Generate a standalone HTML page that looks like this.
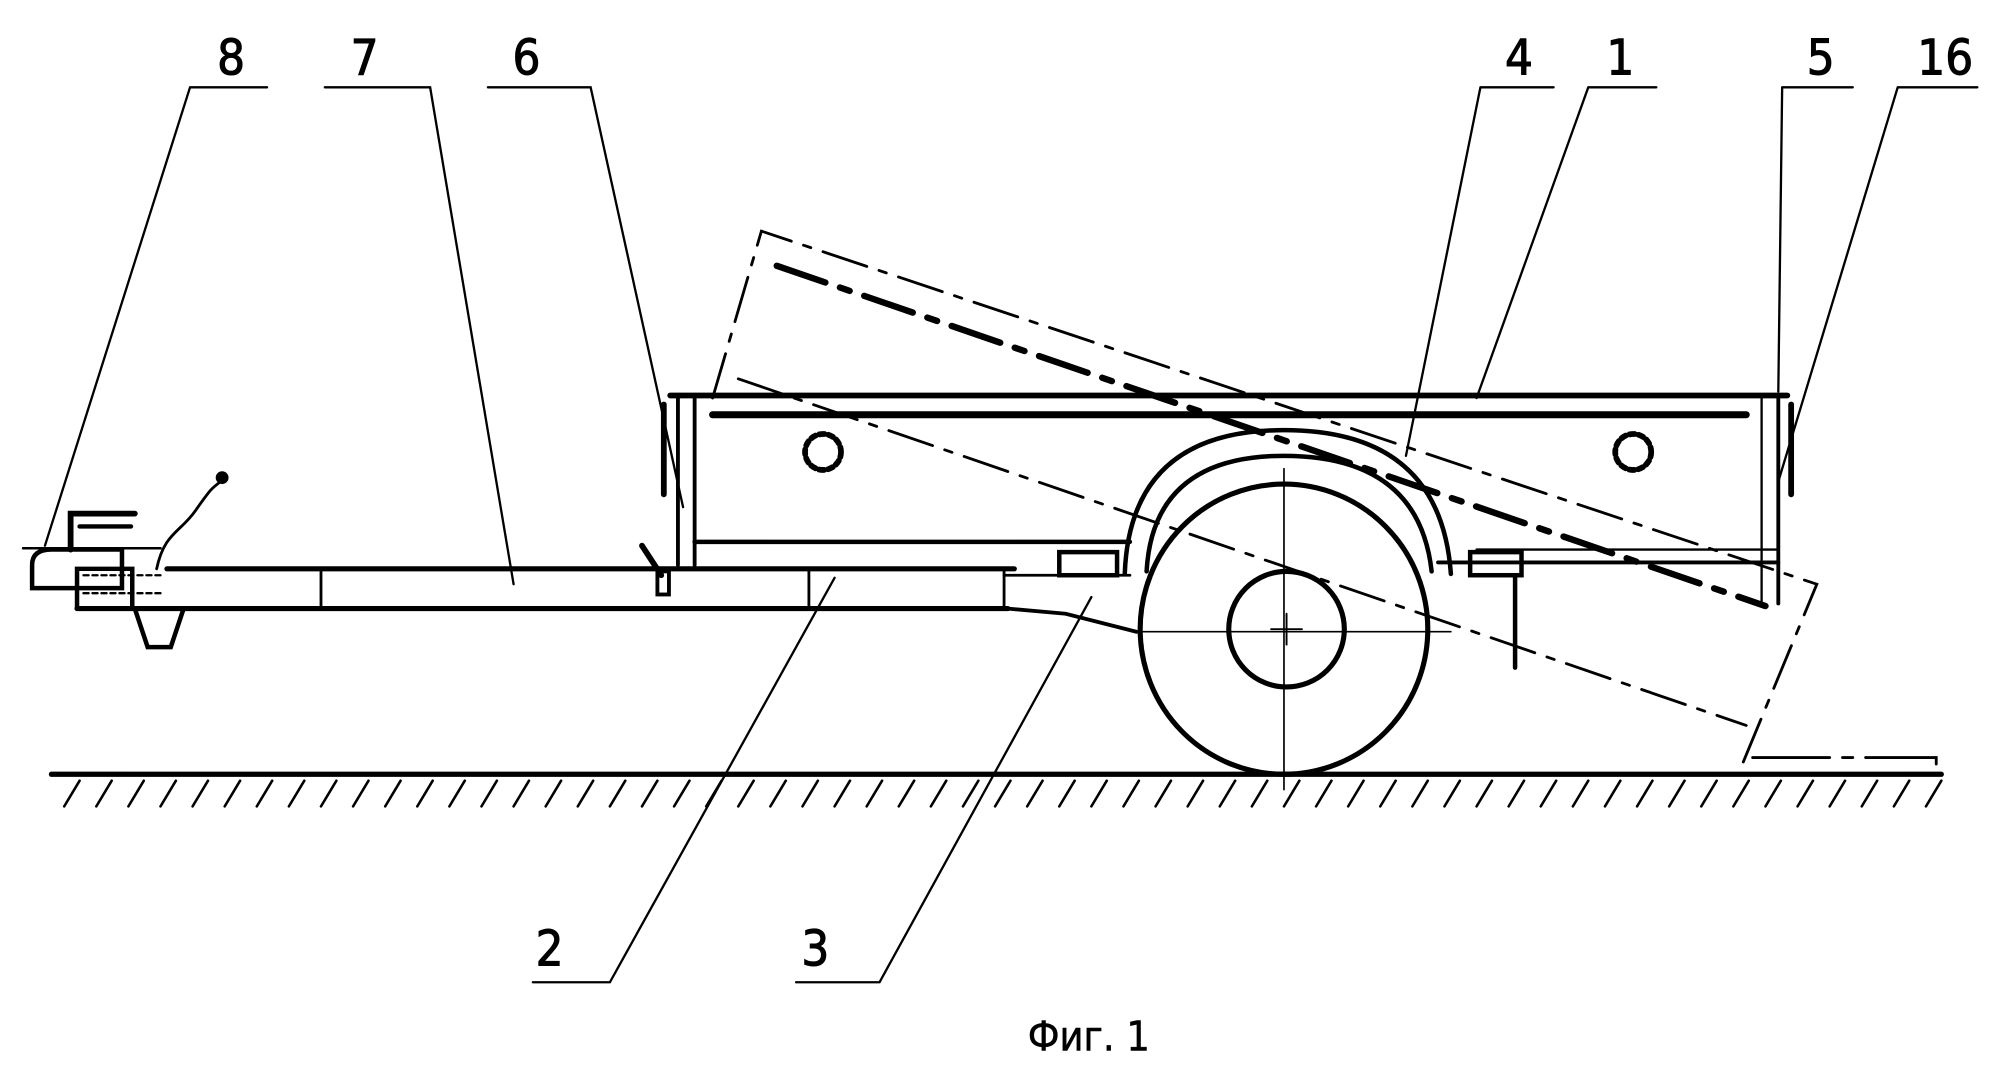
<!DOCTYPE html>
<html><head><meta charset="utf-8"><style>
html,body{margin:0;padding:0;background:#fff;}
svg{display:block}
text{font-family:"DejaVu Sans Condensed","Liberation Sans",sans-serif;fill:#000}
</style></head><body>
<svg width="2003" height="1067" viewBox="0 0 1560 831" preserveAspectRatio="none" xmlns="http://www.w3.org/2000/svg">
<g stroke="#000" fill="none" stroke-linecap="round">
<line x1="40" y1="603" x2="1512" y2="603" stroke-width="4"/>
<g stroke-width="2">
<path d="M50 628l12-20M75 628l12-20M100 628l12-20M125 628l12-20M150 628l12-20M175 628l12-20M200 628l12-20M225 628l12-20M250 628l12-20M275 628l12-20M300 628l12-20M325 628l12-20M350 628l12-20M375 628l12-20M400 628l12-20M425 628l12-20M450 628l12-20M475 628l12-20M500 628l12-20M525 628l12-20M550 628l12-20M575 628l12-20M600 628l12-20M625 628l12-20M650 628l12-20M675 628l12-20M700 628l12-20M725 628l12-20M750 628l12-20M775 628l12-20M800 628l12-20M825 628l12-20M850 628l12-20M875 628l12-20M900 628l12-20M925 628l12-20M950 628l12-20M975 628l12-20M1000 628l12-20M1025 628l12-20M1050 628l12-20M1075 628l12-20M1100 628l12-20M1125 628l12-20M1150 628l12-20M1175 628l12-20M1200 628l12-20M1225 628l12-20M1250 628l12-20M1275 628l12-20M1300 628l12-20M1325 628l12-20M1350 628l12-20M1375 628l12-20M1400 628l12-20M1425 628l12-20M1450 628l12-20M1475 628l12-20M1500 628l12-20"/>
</g>
<ellipse cx="1000" cy="490" rx="112" ry="113" stroke-width="4"/>
<circle cx="1002" cy="490" r="45" stroke-width="4"/>
<line x1="1000" y1="365" x2="1000" y2="615" stroke-width="1.3"/>
<line x1="885" y1="492" x2="1130" y2="492" stroke-width="1.3"/>
<line x1="1002" y1="478" x2="1002" y2="502" stroke-width="1.5"/>
<line x1="990" y1="490" x2="1014" y2="490" stroke-width="1.5"/>
<path d="M876 447 Q880 335 1000 335 Q1122 335 1130 447" stroke-width="3.5"/>
<path d="M893 445 Q898 355 1000 355 Q1105 355 1115 445" stroke-width="3.5"/>
<line x1="522" y1="308" x2="1392" y2="308" stroke-width="4.5"/>
<line x1="555" y1="323" x2="1360" y2="323" stroke-width="5.5"/>
<line x1="541" y1="308" x2="541" y2="440" stroke-width="3"/>
<line x1="528" y1="310" x2="528" y2="440" stroke-width="3"/>
<line x1="1385" y1="308" x2="1385" y2="470" stroke-width="3"/>
<line x1="1372" y1="310" x2="1372" y2="470" stroke-width="1.8"/>
<line x1="541" y1="422" x2="880" y2="422" stroke-width="3.5"/>
<line x1="1120" y1="438" x2="1385" y2="438" stroke-width="3"/>
<line x1="1150" y1="428" x2="1385" y2="428" stroke-width="1.8"/>
<rect x="825" y="430" width="45" height="18" stroke-width="3.5"/>
<rect x="1145" y="430" width="40" height="18" stroke-width="3.5"/>
<line x1="1180" y1="448" x2="1180" y2="520" stroke-width="3.5"/>
<path d="M517 315v70M1395 315v70" stroke-width="4.5"/>
<circle cx="641" cy="352" r="14" stroke-width="4.5" stroke-dasharray="4 3"/>
<circle cx="1272" cy="352" r="14" stroke-width="4.5" stroke-dasharray="4 3"/>
<line x1="130" y1="443" x2="790" y2="443" stroke-width="4"/>
<line x1="60" y1="474" x2="785" y2="474" stroke-width="4"/>
<line x1="250" y1="443" x2="250" y2="474" stroke-width="2.2"/>
<line x1="630" y1="443" x2="630" y2="474" stroke-width="2.2"/>
<line x1="782" y1="443" x2="782" y2="474" stroke-width="2.2"/>
<line x1="782" y1="448" x2="880" y2="448" stroke-width="2.2"/>
<path d="M785 474 L830 478 L885 492" stroke-width="3"/>
<rect x="512" y="445" width="9" height="18" stroke-width="3"/>
<line x1="500" y1="425" x2="515" y2="448" stroke-width="4.5"/>
<path d="M60 474V443h43V474" stroke-width="3.5"/>
<path d="M25 440 Q25 428 40 428 H95 V458 H25 Z" stroke-width="3.5"/>
<path d="M55 428V400h50" stroke-width="4.5"/>
<path d="M62 410h40" stroke-width="3.5"/>
<line x1="18" y1="427" x2="125" y2="427" stroke-width="2"/>
<line x1="65" y1="448" x2="128" y2="448" stroke-width="1.8" stroke-dasharray="4 3"/>
<line x1="65" y1="462" x2="128" y2="462" stroke-width="1.8" stroke-dasharray="4 3"/>
<path d="M105 474l10 30h18l10-30" stroke-width="3.5"/>
<path d="M122 443 C128 415 140 415 152 398 S165 380 172 375" stroke-width="2.2"/>
<circle cx="173" cy="372" r="4.5" fill="#000"/>
<path d="M555 310 L593 180 L1415 455 L1355 600" stroke-width="2.2" stroke-dasharray="36 10 6 10"/>
<path d="M575 295 L1360 565" stroke-width="2.2" stroke-dasharray="36 10 6 10"/>
<path d="M605 207 L1375 472" stroke-width="5" stroke-dasharray="40 12 8 12"/>
<path d="M1365 590 H1508 V603" stroke-width="2.2" stroke-dasharray="60 10 8 10"/>
<g stroke-width="1.8">
<path d="M148 68h60M148 68L35 425"/>
<path d="M253 68h60M313 68h22L400 455"/>
<path d="M380 68h58M438 68h22L532 395"/>
<path d="M1153 68h57M1153 68L1095 355"/>
<path d="M1237 68h53M1237 68L1150 310"/>
<path d="M1388 68h55M1388 68L1385 305"/>
<path d="M1478 68h62M1478 68L1385 375"/>
<path d="M415 765h60L650 450"/>
<path d="M620 765h65L850 465"/>
</g>
</g>
<g font-size="38" text-anchor="middle" stroke="#000" stroke-width="0.8">
<text x="180" y="58">8</text>
<text x="284" y="58">7</text>
<text x="410" y="58">6</text>
<text x="1183" y="58">4</text>
<text x="1262" y="58">1</text>
<text x="1418" y="58">5</text>
<text x="1515" y="58">16</text>
<text x="428" y="752">2</text>
<text x="635" y="752">3</text>
<text x="848" y="818" font-size="32" stroke-width="0.4">Фиг. 1</text>
</g>
</svg>
</body></html>
